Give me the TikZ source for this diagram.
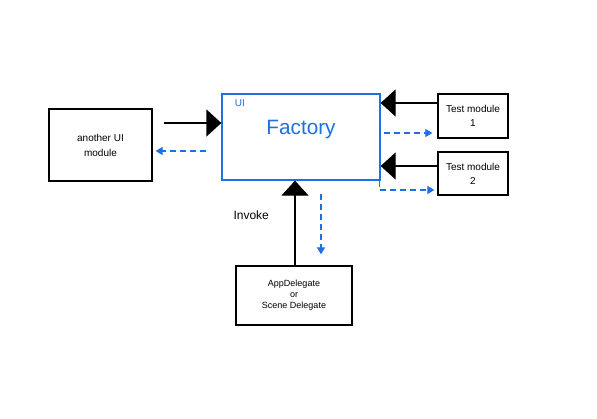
\documentclass[tikz,border=0pt]{standalone}
\usepackage{fontspec}
\setmainfont{Liberation Sans}
\usetikzlibrary{arrows.meta}

\definecolor{penblue}{RGB}{30,110,230}

\tikzset{
  box/.style={draw=black, line width=1.3pt, align=center, inner sep=0pt},
  solidarrow/.style={line width=1.3pt, -{Triangle[width=27pt,length=15pt]}},
  backarrow/.style={penblue, line width=1.1pt, dash pattern=on 6pt off 4pt,
    -{Triangle[width=8pt,length=7pt]}}
}

\begin{document}
\begin{tikzpicture}[x=1pt, y=-1pt]

% ── Canvas ──
\useasboundingbox (0,0) rectangle (597,418);

% ── Boxes ──
\node[box, minimum width=103pt, minimum height=72pt, font=\normalsize] (other) at (100.5,145) {another UI\\[3pt]module};
\node[box, draw=penblue, minimum width=158pt, minimum height=86pt] (factory) at (301,137) {};
\node[font=\huge, penblue] (factorytext) at (301,130) {Factory};
\node[font=\normalsize, penblue, anchor=north west] (uilabel) at ([xshift=10pt,yshift=-3pt]factory.north west) {UI};
\node[box, minimum width=70pt, minimum height=44pt, font=\normalsize] (testA) at (473,116) {Test module\\[2pt]1};
\node[box, minimum width=70pt, minimum height=43pt, font=\normalsize] (testB) at (473,173.5) {Test module\\[2pt]2};
\node[box, minimum width=116pt, minimum height=59pt, font=\small] (delegate) at (294,295.5) {AppDelegate\\or\\Scene Delegate};

% ── Calls into the factory ──
\draw[solidarrow] ([xshift=11pt,yshift=22pt]other.east) -- ([yshift=14pt]factory.west);
\draw[solidarrow] ([yshift=13pt]testA.west) -- ([yshift=34pt]factory.east);
\draw[solidarrow] ([yshift=7.5pt]testB.west) -- ([yshift=-29pt]factory.east);
\draw[solidarrow] ([xshift=1pt]delegate.north) -- ([xshift=-6pt]factory.south);
\node[font=\large, anchor=west] (invoke) at (230,215) {Invoke};

% ── Returns (dashed, blue) ──
\draw[backarrow] ([xshift=-15pt,yshift=-14pt]factory.west) -- ([xshift=3pt,yshift=-6pt]other.east);
\draw[backarrow] ([xshift=3pt,yshift=4pt]factory.east) -- ([xshift=-5pt,yshift=-17pt]testA.west);
\draw[backarrow] ([xshift=-1pt]factory.south east) |- ([xshift=-3pt,yshift=-16.5pt]testB.west);
\draw[backarrow] ([xshift=20pt,yshift=-13pt]factory.south) -- ([xshift=27pt,yshift=11pt]delegate.north);

\end{tikzpicture}
\end{document}
